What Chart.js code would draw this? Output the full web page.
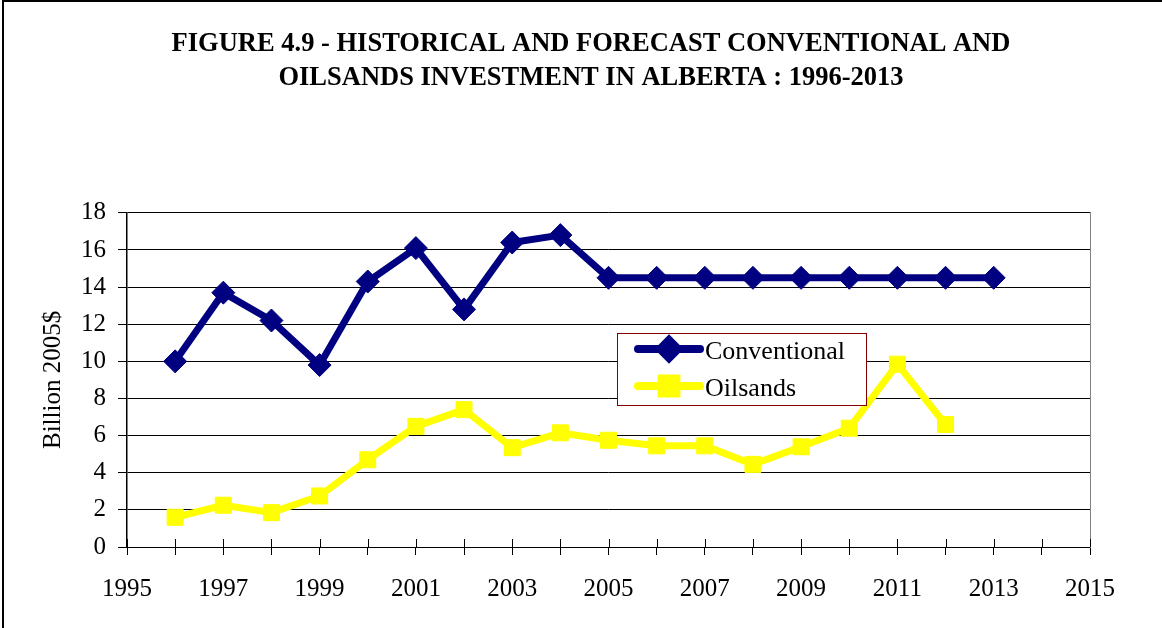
<!DOCTYPE html>
<html lang="en">
<head>
    <meta charset="UTF-8">
    <title>Figure 4.9 - Conventional and Oilsands Investment in Alberta</title>
    <script src="https://cdn.jsdelivr.net/npm/chart.js"></script>
    <style>
        body, html {
            margin: 0;
            padding: 0;
            background: #fff;
        }

        .wrap {
            position: relative;
            width: 1162px;
            height: 628px;
            overflow: hidden;
        }

        /* frame line at top and left, like the pasted figure */
        .frame {
            position: absolute;
            left: 2px;
            top: 0;
            width: 1200px;
            height: 700px;
            border-left: 2px solid #000;
            border-top: 2px solid #000;
        }

        #chart {
            position: absolute;
            left: 0;
            top: 0;
        }
    </style>
</head>
<body>
    <div class="wrap">
        <div class="frame"></div>
        <canvas id="chart" width="1162" height="628"></canvas>
    </div>

    <script>
        // data (billion 2005$)
        var years = [1996, 1997, 1998, 1999, 2000, 2001, 2002, 2003, 2004, 2005,
                     2006, 2007, 2008, 2009, 2010, 2011, 2012, 2013];
        var conventional = [10.0, 13.7, 12.2, 9.8, 14.3, 16.1, 12.8, 16.4, 16.8, 14.5,
                            14.5, 14.5, 14.5, 14.5, 14.5, 14.5, 14.5, 14.5];
        var oilsands = [1.6, 2.25, 1.85, 2.75, 4.7, 6.5, 7.4, 5.35, 6.15, 5.75,
                        5.45, 5.45, 4.45, 5.4, 6.4, 9.85, 6.6];
        var xMin = 1995, xMax = 2015;
        var yMin = 0, yMax = 18, yStep = 2;

        var serif = "'Liberation Serif', 'Times New Roman', serif";

        function toPoints(values) {
            var pts = [];
            for (var i = 0; i < values.length; i++) {
                pts.push({ x: years[i], y: values[i] });
            }
            return pts;
        }

        // upper half of the crossing tick marks on the x axis
        var crossTicks = {
            id: 'crossTicks',
            beforeDatasetsDraw: function (chart) {
                var ctx = chart.ctx;
                var xs = chart.scales.x;
                var y = chart.chartArea.bottom;
                ctx.save();
                ctx.strokeStyle = '#000';
                ctx.lineWidth = 1;
                ctx.beginPath();
                xs.ticks.forEach(function (t) {
                    var px = Math.round(xs.getPixelForValue(t.value)) + 0.5;
                    ctx.moveTo(px, y - 8);
                    ctx.lineTo(px, y);
                });
                ctx.stroke();
                ctx.restore();
            }
        };

        // boxed legend sitting inside the plot, as in the original
        var boxLegend = {
            id: 'boxLegend',
            afterDraw: function (chart) {
                var ctx = chart.ctx;
                var box = { x: 617, y: 333, w: 249, h: 72 };
                ctx.save();
                ctx.fillStyle = '#fff';
                ctx.fillRect(box.x, box.y, box.w, box.h);
                ctx.strokeStyle = '#800000';
                ctx.lineWidth = 1;
                ctx.strokeRect(box.x + 0.5, box.y + 0.5, box.w, box.h);

                var legendRadius = [9, 10.5];
                chart.data.datasets.forEach(function (ds, i) {
                    var cy = box.y + 16 + i * 37;
                    ctx.strokeStyle = ds.borderColor;
                    ctx.lineWidth = 8;
                    ctx.lineCap = 'round';
                    ctx.beginPath();
                    ctx.moveTo(box.x + 21, cy);
                    ctx.lineTo(box.x + 83, cy);
                    ctx.stroke();
                    ctx.fillStyle = ds.pointBackgroundColor;
                    ctx.strokeStyle = ds.pointBackgroundColor;
                    Chart.helpers.drawPoint(ctx, {
                        pointStyle: ds.pointStyle,
                        radius: legendRadius[i],
                        borderWidth: 1,
                        rotation: 0
                    }, box.x + 52, cy);
                    ctx.fillStyle = '#000';
                    ctx.font = '26px ' + serif;
                    ctx.textBaseline = 'middle';
                    ctx.textAlign = 'left';
                    ctx.fillText(ds.label, box.x + 88, cy + 3);
                });
                ctx.restore();
            }
        };

        var chart = new Chart(document.getElementById('chart'), {
            type: 'line',
            data: {
                datasets: [{
                    label: 'Conventional',
                    data: toPoints(conventional),
                    borderColor: '#000080',
                    borderWidth: 7,
                    borderJoinStyle: 'round',
                    pointStyle: 'rectRot',
                    pointRadius: 11.5,
                    pointBackgroundColor: '#000080',
                    pointBorderColor: '#000080',
                    pointBorderWidth: 1,
                    tension: 0
                }, {
                    label: 'Oilsands',
                    data: toPoints(oilsands),
                    borderColor: '#ffff00',
                    borderWidth: 7,
                    borderJoinStyle: 'round',
                    pointStyle: 'rect',
                    pointRadius: 11.3,
                    pointBackgroundColor: '#ffff00',
                    pointBorderColor: '#ffff00',
                    pointBorderWidth: 1,
                    tension: 0
                }]
            },
            options: {
                responsive: false,
                animation: false,
                layout: { padding: { left: 20, right: 0, top: 0, bottom: 0 } },
                plugins: {
                    legend: { display: false },
                    tooltip: { enabled: false },
                    title: {
                        display: true,
                        text: ['FIGURE 4.9 - HISTORICAL AND FORECAST CONVENTIONAL AND',
                               'OILSANDS INVESTMENT IN ALBERTA : 1996-2013'],
                        color: '#000',
                        font: { family: serif, size: 26.5, weight: 'bold', lineHeight: 1.28 },
                        padding: { top: 27, bottom: 118 }
                    }
                },
                scales: {
                    x: {
                        type: 'linear',
                        min: xMin,
                        max: xMax,
                        afterFit: function (s) { s.height = 81; },
                        ticks: {
                            stepSize: 1,
                            maxTicksLimit: 30,
                            autoSkip: false,
                            maxRotation: 0,
                            padding: 19,
                            color: '#000',
                            font: { family: serif, size: 25 },
                            callback: function (v) { return v % 2 === 1 ? String(v) : ''; }
                        },
                        grid: {
                            drawOnChartArea: false,
                            drawTicks: true,
                            tickLength: 8,
                            color: '#000'
                        },
                        border: { color: '#000', width: 1 }
                    },
                    y: {
                        min: yMin,
                        max: yMax,
                        afterFit: function (s) { s.width = 107; },
                        ticks: {
                            stepSize: yStep,
                            padding: 12,
                            color: '#000',
                            font: { family: serif, size: 25 }
                        },
                        grid: {
                            color: '#000',
                            lineWidth: 1,
                            tickLength: 9
                        },
                        border: { color: '#000', width: 1.5 },
                        title: {
                            display: true,
                            text: 'Billion 2005$',
                            color: '#000',
                            font: { family: serif, size: 25, lineHeight: 1.2 },
                            padding: { top: 18, bottom: 0 }
                        }
                    },
                    y2: {
                        position: 'right',
                        min: yMin,
                        max: yMax,
                        afterFit: function (s) { s.width = 72; },
                        ticks: { display: false },
                        grid: { drawOnChartArea: false, drawTicks: false },
                        border: { color: '#808080', width: 1 }
                    }
                }
            },
            plugins: [crossTicks, boxLegend]
        });
    </script>
</body>
</html>
